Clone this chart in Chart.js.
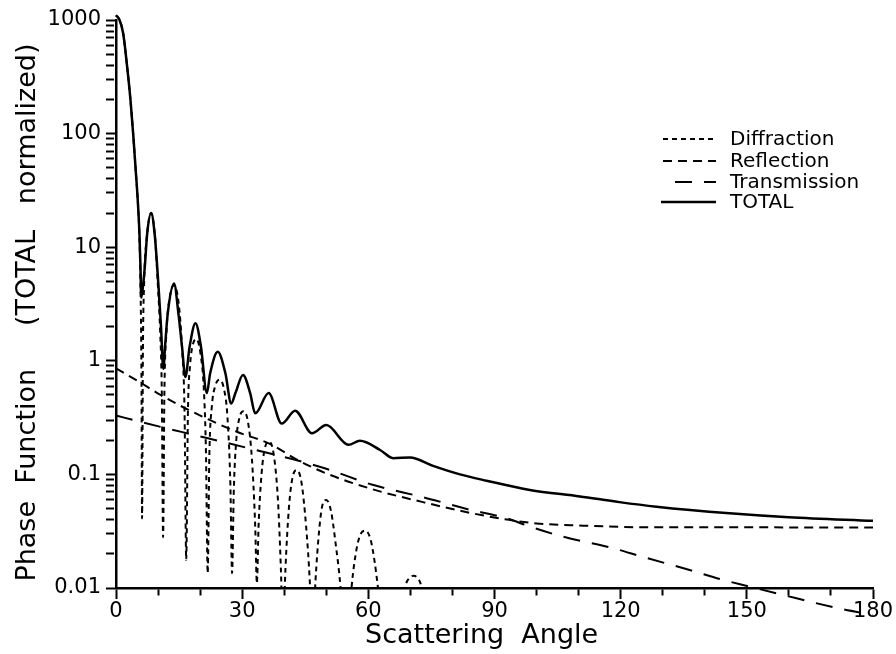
<!DOCTYPE html>
<html>
<head>
<meta charset="utf-8">
<script src="https://cdn.jsdelivr.net/npm/chart.js@4/dist/chart.umd.min.js"></script>
<style>
  html, body { margin: 0; padding: 0; background: #fff; }
  #wrap { width: 896px; height: 654px; }
</style>
</head>
<body>
<div id="wrap"><canvas id="phaseChart" width="896" height="654"></canvas></div>
<script>
// values (angle in degrees, phase function)
const diffAngle = [0, 0.8, 1.7, 2.65, 3.44, 4.07, 4.63, 5.17, 5.58, 5.85, 6.05, 6.2,
  6.4, 6.7, 7.3, 8.35, 9.3, 9.9, 10.5, 10.9, 11.2,
  11.5, 12.0, 12.7, 13.8, 14.9, 15.7, 16.3, 16.7,
  17.1, 17.6, 18.2, 19.1, 20.1, 20.9, 21.4, 21.8,
  22.2, 22.8, 23.6, 24.6, 25.6, 26.5, 27.2, 27.6,
  28.0, 28.6, 29.4, 30.3, 31.3, 32.3, 33.1, 33.5,
  33.9, 34.6, 35.4, 36.4, 37.5, 38.5, 39.2, 39.7,
  40.3, 41.1, 42.0, 43.0, 44.1, 45.2, 46.1, 46.7,
  47.4, 48.3, 49.0, 50.0, 51.1, 52.2, 53.4, 54.7,
  56.0, 57.2, 58.2, 59.3, 60.5, 61.5, 62.3, 64.5,
  67.8, 68.8, 69.7, 70.8, 71.8, 72.6, 73.5, 76];
const diffValue = [1100, 1010, 764, 388, 198, 101, 51, 26, 12, 4, 0.8, 0.041,
  1.2, 5, 12, 20, 12, 5, 1.8, 0.5, 0.028,
  0.5, 1.8, 3.5, 4.6, 3.2, 1.3, 0.35, 0.0177,
  0.35, 0.9, 1.35, 1.55, 1.15, 0.55, 0.15, 0.0135,
  0.15, 0.4, 0.6, 0.68, 0.58, 0.32, 0.08, 0.0135,
  0.07, 0.2, 0.32, 0.36, 0.3, 0.14, 0.035, 0.011,
  0.035, 0.1, 0.17, 0.194, 0.15, 0.06, 0.015, 0.004,
  0.015, 0.05, 0.095, 0.109, 0.085, 0.035, 0.011, 0.003,
  0.011, 0.032, 0.052, 0.0596, 0.048, 0.025, 0.01, 0.002,
  0.01, 0.022, 0.03, 0.032, 0.027, 0.017, 0.01, 0.002,
  0.005, 0.0102, 0.0122, 0.0128, 0.0121, 0.0102, 0.005, 0.002];

const reflAngle = [0, 5, 10.6, 16, 22.4, 29, 36.7, 43, 50, 61, 73, 84, 93, 100, 110, 128, 150, 180];
const reflValue = [0.86, 0.67, 0.50, 0.39, 0.30, 0.235, 0.185, 0.135, 0.102, 0.074, 0.057, 0.046,
  0.040, 0.037, 0.0355, 0.0342, 0.0342, 0.034];

const transAngle = [0, 5.8, 21.6, 35.9, 43, 50, 61, 73, 84, 93, 98.4, 106.3, 118.2, 125,
  136.4, 144.3, 150.6, 158.5, 172, 180];
const transValue = [0.33, 0.29, 0.209, 0.155, 0.133, 0.112, 0.081, 0.063, 0.049, 0.041, 0.0347,
  0.0283, 0.0224, 0.0189, 0.0144, 0.0118, 0.0103, 0.0087, 0.0066, 0.0058];

const totalAngle = [0, 0.8, 1.7, 2.65, 3.44, 4.07, 4.63, 5.17, 5.58, 5.82, 6.0,
  6.4, 6.85, 7.4, 8.35, 9.2, 9.8, 10.2, 10.7, 11.25,
  11.7, 12.3, 13.8, 14.9, 15.7, 16.5,
  17.5, 18.9, 20.2, 21.6,
  22.4, 24.2, 26.0, 27.4,
  28.4, 30.2, 31.9, 33.1,
  36.3, 39.4, 42.6, 46.6, 50.0, 55.3, 58.0, 62.8, 65.9, 69.9, 75.4, 81.8, 88.1,
  98.4, 110.3, 119.7, 128.5, 145.9, 160, 180];
const totalValue = [1100, 1010, 764, 388, 198, 101, 51, 26, 13, 6.7, 3.6,
  4.5, 6.7, 13, 20, 13, 6.7, 4, 2, 0.85,
  1.4, 2.6, 4.8, 2.5, 1.33, 0.72,
  1.33, 2.14, 1.33, 0.52,
  0.78, 1.2, 0.78, 0.42,
  0.52, 0.75, 0.52, 0.345,
  0.52, 0.28, 0.363, 0.23, 0.272, 0.182, 0.198, 0.164, 0.139, 0.141, 0.119, 0.100, 0.088,
  0.073, 0.064, 0.057, 0.052, 0.0455, 0.042, 0.039];

const seriesLabels = ['Diffraction', 'Reflection', 'Transmission', 'TOTAL'];

// axis ticks
const xTicks = [0, 30, 60, 90, 120, 150, 180];
const yDecades = [0.01, 0.1, 1, 10, 100, 1000];
const yTickLabels = ['0.01', '0.1', '1', '10', '100', '1000'];

const FONT = 'DejaVu Sans';

function toPoints(xs, ys) {
  return xs.map((x, i) => ({ x: x, y: ys[i] }));
}

// minor log ticks: 1..9 times each decade
function yTickValues() {
  const vals = [];
  yDecades.forEach((d, i) => {
    if (i === yDecades.length - 1) { vals.push(d); return; }
    for (let m = 1; m <= 9; m++) vals.push(Math.round(d * m * 1e6) / 1e6);
  });
  return vals;
}

function isDecade(v) {
  return yDecades.findIndex(d => Math.abs(v / d - 1) < 1e-6);
}

// legend drawn inside the plot area, upper right
const insideLegend = {
  id: 'insideLegend',
  afterDraw(chart) {
    const ctx = chart.ctx;
    const rows = [139, 161, 182, 202];
    const lineFrom = [663, 663, 675, 661];
    ctx.save();
    chart.data.datasets.forEach((ds, i) => {
      ctx.beginPath();
      ctx.setLineDash(ds.borderDash || []);
      ctx.lineWidth = ds.borderWidth;
      ctx.strokeStyle = ds.borderColor;
      ctx.moveTo(lineFrom[i], rows[i]);
      ctx.lineTo(716, rows[i]);
      ctx.stroke();
      ctx.setLineDash([]);
      ctx.fillStyle = '#000';
      ctx.font = '20px "' + FONT + '"';
      ctx.textBaseline = 'middle';
      ctx.textAlign = 'left';
      ctx.fillText(ds.label, 730, rows[i] + 1);
    });
    ctx.restore();
  }
};

const ctx = document.getElementById('phaseChart').getContext('2d');

// let the main lobe poke slightly above the top of the frame, as in the original
const openTop = { left: 1, top: false, right: 1, bottom: 1 };

const myChart = new Chart(ctx, {
  type: 'line',
  data: {
    datasets: [
      {
        label: seriesLabels[0],
        data: toPoints(diffAngle, diffValue),
        borderColor: '#000',
        borderWidth: 2,
        borderDash: [5, 4],
        pointRadius: 0,
        fill: false,
        clip: openTop,
        cubicInterpolationMode: 'monotone'
      },
      {
        label: seriesLabels[1],
        data: toPoints(reflAngle, reflValue),
        borderColor: '#000',
        borderWidth: 2,
        borderDash: [9, 6],
        pointRadius: 0,
        fill: false,
        cubicInterpolationMode: 'monotone'
      },
      {
        label: seriesLabels[2],
        data: toPoints(transAngle, transValue),
        borderColor: '#000',
        borderWidth: 2,
        borderDash: [17, 12],
        pointRadius: 0,
        fill: false,
        clip: false,
        cubicInterpolationMode: 'monotone'
      },
      {
        label: seriesLabels[3],
        data: toPoints(totalAngle, totalValue),
        borderColor: '#000',
        borderWidth: 2.5,
        pointRadius: 0,
        fill: false,
        clip: openTop,
        cubicInterpolationMode: 'monotone'
      }
    ]
  },
  options: {
    responsive: false,
    animation: false,
    layout: { padding: { left: 0, right: 23, top: 20, bottom: 0 } },
    plugins: {
      legend: { display: false },
      tooltip: { enabled: false }
    },
    scales: {
      x: {
        type: 'linear',
        min: 0,
        max: 180,
        afterFit: function(scale) { scale.height = 66; },
        border: { color: '#000', width: 2.5 },
        grid: {
          drawOnChartArea: false,
          tickLength: 11,
          tickWidth: 2,
          tickColor: '#000',
          tickBorderDash: function(c) {
            return xTicks.includes(c.tick.value) ? [] : [6, 40];
          }
        },
        ticks: {
          stepSize: 10,
          autoSkip: false,
          maxRotation: 0,
          padding: 0,
          color: '#000',
          font: { family: FONT, size: 21 },
          callback: function(v) { return xTicks.includes(v) ? String(v) : ''; }
        },
        title: {
          display: true,
          text: 'Scattering  Angle   ',
          color: '#000',
          font: { family: FONT, size: 27 },
          padding: { top: 0, bottom: 2 }
        }
      },
      y: {
        type: 'logarithmic',
        min: 0.01,
        max: 1000,
        afterFit: function(scale) { scale.width = 116; },
        afterBuildTicks: function(scale) {
          scale.ticks = yTickValues().map(v => ({ value: v }));
        },
        border: { color: '#000', width: 2.5 },
        grid: {
          drawOnChartArea: false,
          tickLength: 10,
          tickWidth: 2,
          tickColor: '#000',
          tickBorderDash: function(c) {
            return isDecade(c.tick.value) >= 0 ? [] : [8, 40];
          }
        },
        ticks: {
          autoSkip: false,
          padding: 5,
          color: '#000',
          font: { family: FONT, size: 21 },
          callback: function(v) {
            const i = isDecade(v);
            return i >= 0 ? yTickLabels[i] : '';
          }
        },
        title: {
          display: true,
          text: 'Phase  Function     (TOTAL   normalized)  ',
          color: '#000',
          font: { family: FONT, size: 27 },
          padding: { top: 12, bottom: 0 }
        }
      }
    }
  },
  plugins: [insideLegend]
});
</script>
</body>
</html>
